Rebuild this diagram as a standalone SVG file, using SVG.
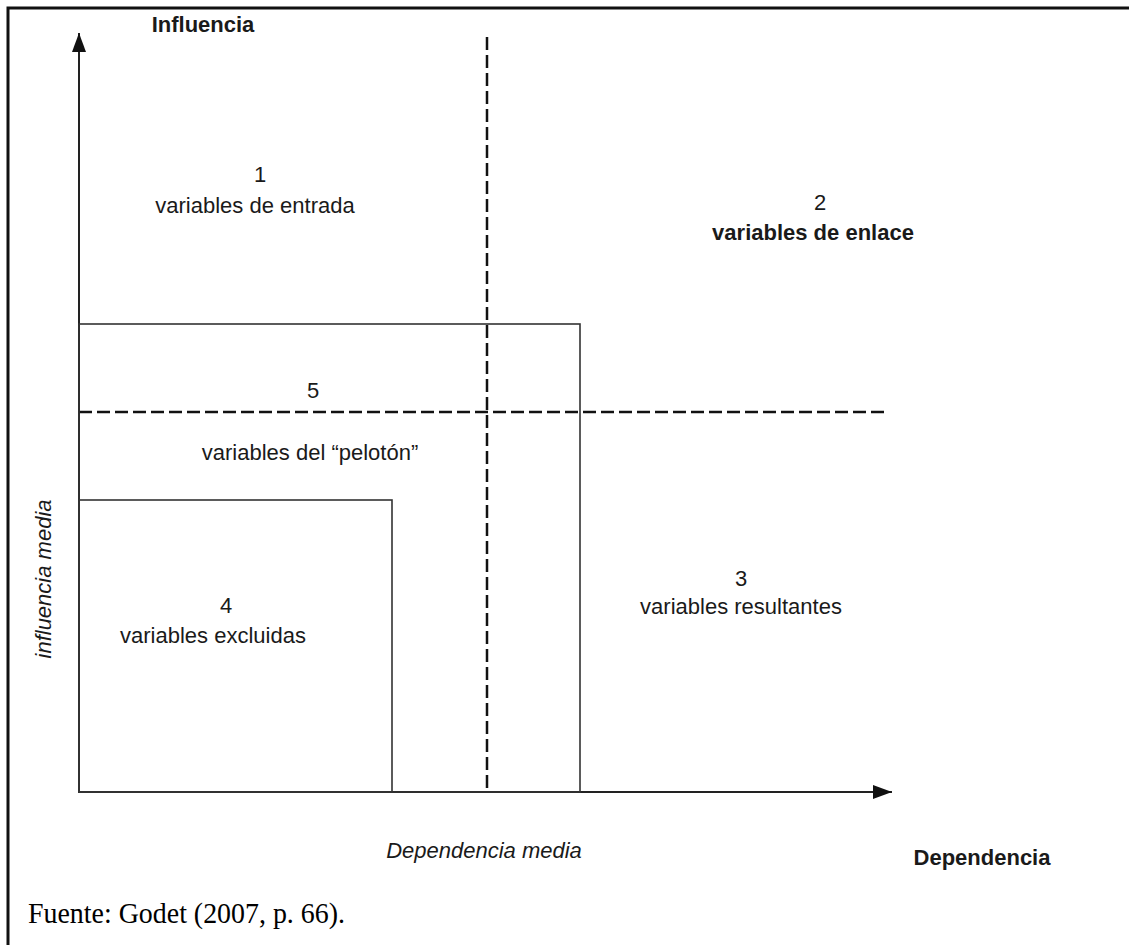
<svg xmlns="http://www.w3.org/2000/svg" width="1129" height="945" viewBox="0 0 1129 945">
<style>
.t{font-family:"Liberation Sans",Arial,sans-serif;font-size:22px;fill:#1a1a1a;text-anchor:middle}
.b{font-weight:bold}
.i{font-style:italic}
.ln{stroke:#333;stroke-width:1.6;fill:none}
.ax{stroke:#222;stroke-width:2;fill:none}
.da{stroke:#111;stroke-width:2.5;stroke-dasharray:13,5;fill:none}
</style>
<defs>
<marker id="ahv" markerWidth="20" markerHeight="20" refX="19" refY="7" orient="auto" markerUnits="userSpaceOnUse">
<path d="M0,0 L19,7 L0,14 Z" fill="#111"/>
</marker>
</defs>
<rect width="1129" height="945" fill="#fff"/>
<path d="M8,945 V8 H1129" stroke="#111" stroke-width="3" fill="none"/>
<g id="connectors">
<line class="ax" x1="79" y1="793" x2="79" y2="33" marker-end="url(#ahv)"/>
<line class="ax" x1="79" y1="792" x2="892" y2="792" marker-end="url(#ahv)"/>
<line class="da" x1="487" y1="37" x2="487" y2="792"/>
<line class="da" x1="79" y1="412" x2="887" y2="412"/>
</g>
<g id="node5"><rect class="ln" x="79" y="324" width="501" height="468"/>
<text class="t" x="313" y="398">5</text>
<text class="t" x="310" y="460">variables del “pelotón”</text></g>
<g id="node4"><rect class="ln" x="79" y="500" width="313" height="292"/>
<text class="t" x="226" y="613">4</text>
<text class="t" x="213" y="643">variables excluidas</text></g>
<g id="node1"><text class="t" x="260" y="182">1</text>
<text class="t" x="255" y="213">variables de entrada</text></g>
<g id="node2"><text class="t" x="820" y="210">2</text>
<text class="t b" x="813" y="240">variables de enlace</text></g>
<g id="node3"><text class="t" x="741" y="586">3</text>
<text class="t" x="741" y="614">variables resultantes</text></g>
<g id="labels">
<text class="t b" x="203" y="32">Influencia</text>
<text class="t i" font-size="21" transform="translate(51,579) rotate(-90)">influencia media</text>
<text class="t i" x="484" y="858">Dependencia media</text>
<text class="t b" x="982" y="865">Dependencia</text>
<text x="28" y="923" font-family="'Liberation Serif','Times New Roman',serif" font-size="29" fill="#000" textLength="317" lengthAdjust="spacingAndGlyphs">Fuente: Godet (2007, p. 66).</text>
</g>
</svg>
